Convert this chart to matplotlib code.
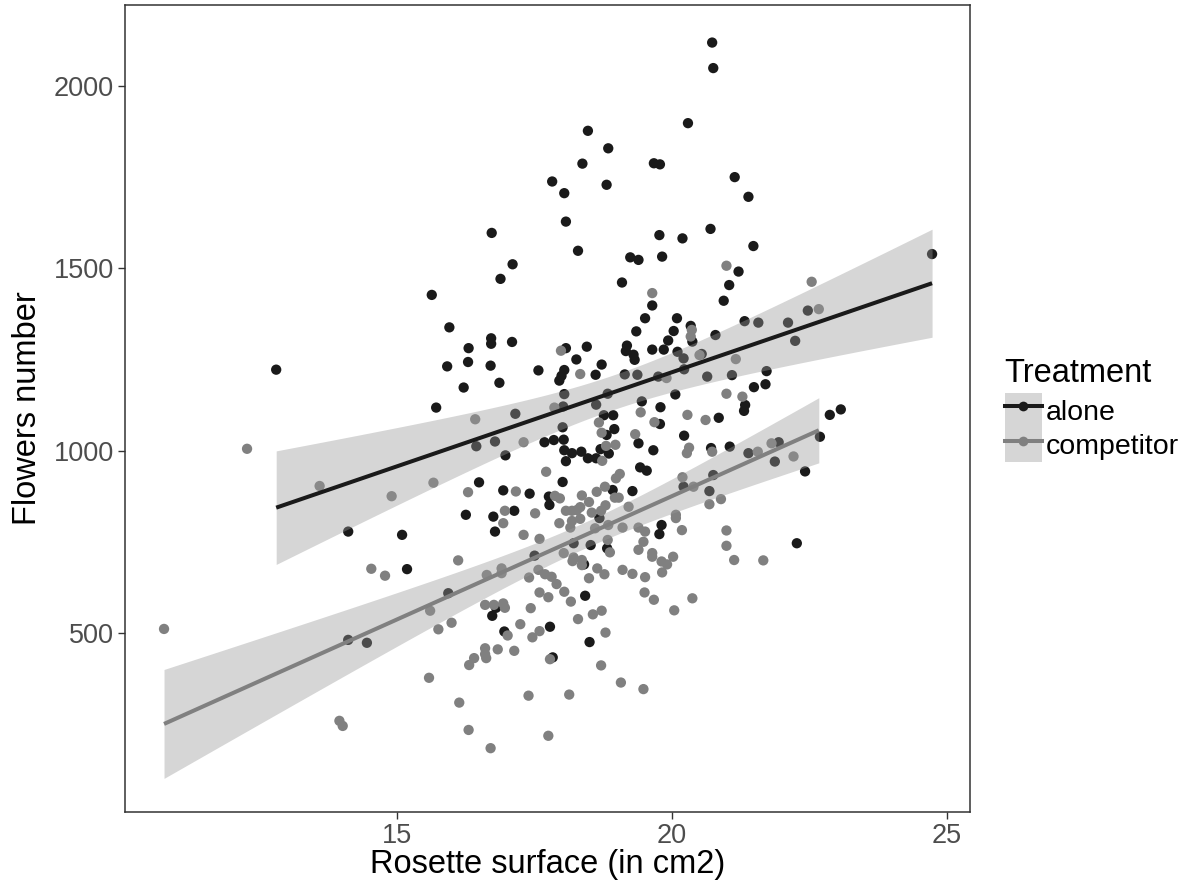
import numpy as np
import matplotlib
matplotlib.use("Agg")
import matplotlib.pyplot as plt
from matplotlib.patches import Patch
from matplotlib.lines import Line2D
from matplotlib.legend_handler import HandlerTuple

plt.rcParams['font.family'] = ['Liberation Sans', 'DejaVu Sans']

# ---- data (Rosette surface in cm2, Flowers number) ----
alone_x = [18.47, 18.84, 18.37, 17.82, 18.04, 18.81, 19.67, 19.78, 20.29, 18.07,
           16.72, 19.77, 20.19, 18.29, 19.24, 19.39, 19.82, 17.10, 20.73, 20.75,
           21.14, 21.39, 20.70, 21.48, 24.73, 21.21, 12.80, 15.63, 16.88, 19.09,
           15.95, 16.30, 16.71, 16.71, 17.09, 15.91, 16.29, 16.70, 16.21, 16.86,
           15.71, 17.57, 18.07, 18.45, 18.26, 18.72, 18.61, 18.04, 17.99, 17.95,
           19.64, 19.51, 19.35, 19.18, 19.16, 19.30, 19.32, 19.64, 19.85, 19.93,
           20.03, 20.09, 20.34, 20.37, 20.10, 18.76, 18.93, 18.95, 18.81, 19.39,
           19.79, 19.78, 20.22, 19.66, 17.68, 17.85, 18.03, 18.04, 18.18, 18.35,
           18.07, 18.47, 18.62, 18.70, 18.85, 16.97, 20.06, 19.42, 19.54, 16.49,
           18.01, 16.93, 17.41, 17.76, 17.77, 18.92, 19.28, 16.25, 17.13, 16.75,
           18.04, 18.02, 18.01, 18.83, 18.62, 19.45, 19.37, 19.14, 19.75, 20.21,
           20.22, 17.15, 16.44, 16.78, 20.21, 21.04, 20.94, 22.47, 21.32, 21.57,
           22.11, 20.79, 22.24, 20.54, 20.64, 21.09, 21.72, 21.49, 21.70, 21.33,
           21.31, 20.85, 22.87, 23.07, 22.69, 20.71, 21.05, 21.39, 21.94, 21.87,
           22.42, 20.75, 20.68, 14.11, 15.09, 15.18, 14.11, 14.45, 16.78, 18.68,
           19.81, 19.77, 18.21, 18.52, 18.82, 18.40, 17.50, 15.93, 18.42, 16.80,
           16.73, 17.78, 16.95, 18.50, 17.83, 22.27]
alone_y = [1877, 1829, 1787, 1738, 1706, 1729, 1788, 1785, 1898, 1628,
           1597, 1591, 1582, 1548, 1530, 1523, 1532, 1511, 2119, 2049,
           1750, 1696, 1608, 1561, 1539, 1491, 1222, 1427, 1471, 1461,
           1338, 1281, 1308, 1293, 1298, 1231, 1243, 1233, 1173, 1186,
           1118, 1220, 1281, 1285, 1250, 1236, 1208, 1221, 1205, 1192,
           1398, 1363, 1327, 1288, 1273, 1263, 1249, 1277, 1277, 1302,
           1328, 1363, 1342, 1299, 1271, 1097, 1097, 1059, 1043, 1020,
           1119, 1073, 1041, 1001, 1023, 1029, 1030, 1001, 993, 997,
           971, 979, 979, 1004, 992, 987, 1154, 954, 945, 913,
           914, 891, 882, 874, 851, 892, 889, 824, 835, 819,
           1155, 1121, 1064, 1156, 1126, 1135, 1208, 1209, 1203, 1253,
           1223, 1101, 1012, 1025, 901, 1454, 1411, 1384, 1355, 1351,
           1351, 1317, 1301, 1265, 1203, 1207, 1218, 1174, 1182, 1125,
           1109, 1090, 1098, 1113, 1038, 1007, 1011, 993, 1023, 970,
           943, 933, 889, 778, 769, 675, 481, 473, 778, 815,
           796, 771, 746, 741, 732, 688, 712, 609, 602, 569,
           547, 517, 504, 475, 433, 746]

comp_x = [20.99, 12.27, 13.59, 14.90, 19.64, 17.98, 18.33, 17.86, 16.42, 17.30,
          15.66, 16.29, 17.16, 17.71, 19.43, 18.67, 18.72, 18.97, 18.80, 19.33,
          18.73, 19.68, 19.90, 20.28, 20.31, 20.27, 20.36, 20.34, 20.50, 19.05,
          18.98, 18.78, 18.63, 18.96, 19.03, 18.36, 18.49, 17.96, 17.87, 18.79,
          18.71, 19.21, 18.33, 18.27, 18.18, 18.07, 18.54, 17.51, 16.96, 20.19,
          20.39, 20.07, 22.54, 22.67, 21.16, 20.99, 21.28, 20.61, 20.73, 21.56,
          21.81, 22.21, 20.89, 20.68, 14.53, 14.78, 10.76, 13.95, 14.01, 16.93,
          17.95, 18.15, 18.18, 18.33, 18.60, 18.84, 19.10, 19.39, 19.51, 20.07,
          20.18, 17.30, 17.59, 16.11, 18.87, 18.83, 19.48, 19.39, 19.64, 19.64,
          20.02, 19.81, 19.91, 19.82, 18.03, 18.21, 18.19, 18.36, 18.36, 18.64,
          18.77, 19.10, 19.28, 19.51, 18.49, 16.90, 16.90, 16.63, 17.40, 17.57,
          17.69, 17.81, 17.90, 18.04, 17.59, 17.75, 18.16, 19.50, 19.67, 20.37,
          20.04, 18.72, 18.56, 18.29, 15.60, 16.60, 16.76, 16.93, 16.96, 17.43,
          15.75, 15.99, 17.24, 17.59, 17.46, 17.01, 18.79, 16.60, 16.62, 16.60,
          16.40, 16.31, 16.83, 17.13, 17.78, 18.71, 15.58, 19.07, 19.48, 17.39,
          18.13, 16.13, 16.30, 17.75, 16.70, 20.99, 20.99, 21.13, 21.66]
comp_y = [1507, 1005, 903, 875, 1432, 1274, 1210, 1118, 1086, 1023,
          912, 886, 888, 942, 1105, 1077, 1049, 1016, 1013, 1045,
          972, 1078, 1199, 1098, 1008, 993, 1331, 1313, 1262, 936,
          924, 901, 887, 871, 871, 877, 859, 869, 876, 850,
          835, 846, 845, 837, 835, 835, 830, 828, 835, 927,
          901, 824, 1463, 1388, 1251, 1156, 1148, 1084, 997, 997,
          1020, 984, 867, 853, 676, 657, 511, 259, 245, 801,
          801, 789, 807, 813, 787, 796, 789, 789, 778, 815,
          782, 769, 758, 699, 721, 755, 750, 728, 719, 709,
          709, 696, 688, 666, 719, 707, 697, 700, 686, 677,
          661, 673, 662, 653, 650, 677, 664, 659, 652, 673,
          661, 654, 634, 613, 611, 598, 586, 611, 591, 595,
          562, 561, 551, 538, 561, 577, 577, 581, 569, 568,
          510, 528, 524, 505, 488, 493, 501, 458, 431, 442,
          431, 412, 455, 451, 428, 411, 377, 364, 346, 328,
          331, 309, 234, 218, 184, 781, 739, 700, 699]

groups = ['alone', 'competitor']
colors = {'alone': '#1a1a1a', 'competitor': '#808080'}
x_ticks = [15, 20, 25]
y_ticks = [500, 1000, 1500, 2000]

fig = plt.figure(figsize=(11.92, 8.94), dpi=100)
ax = fig.add_axes([125/1192, 1 - 812/894, 845/1192, 807/894])

data = {'alone': (np.array(alone_x), np.array(alone_y, dtype=float)),
        'competitor': (np.array(comp_x), np.array(comp_y, dtype=float))}

# points
for g in groups:
    x, y = data[g]
    ax.scatter(x, y, s=55, color=colors[g], edgecolors='none', zorder=2)

# linear fits with 95% CI ribbons (drawn over points, like ggplot)
t_crit = 1.975
for g in groups:
    x, y = data[g]
    n = len(x)
    b, a = np.polyfit(x, y, 1)
    resid = y - (a + b * x)
    s = np.sqrt(np.sum(resid ** 2) / (n - 2))
    xm = x.mean()
    sxx = np.sum((x - xm) ** 2)
    xs = np.linspace(x.min(), x.max(), 100)
    yhat = a + b * xs
    se = s * np.sqrt(1 / n + (xs - xm) ** 2 / sxx)
    ax.fill_between(xs, yhat - t_crit * se, yhat + t_crit * se,
                    color='#999999', alpha=0.4, linewidth=0, zorder=3)
    ax.plot(xs, yhat, color=colors[g], lw=2.9, zorder=4, solid_capstyle='butt')

ax.set_xlim(10.05, 25.42)
ax.set_ylim(9, 2222)
ax.set_xticks(x_ticks)
ax.set_yticks(y_ticks)
ax.tick_params(axis='both', direction='out', length=5, width=1, color='#333333',
               labelsize=19.5, labelcolor='#4d4d4d', pad=3)
for sp in ax.spines.values():
    sp.set_color('#333333')
    sp.set_linewidth(1.1)

ax.set_xlabel('Rosette surface (in cm2)', fontsize=23.5, color='black', labelpad=0)
ax.set_ylabel('Flowers number', fontsize=23.5, color='black', labelpad=8)

# legend
patch = Patch(facecolor='#999999', alpha=0.4, edgecolor='none')
handles = []
for g in groups:
    ln = Line2D([], [], color=colors[g], lw=2.9, marker='o', markersize=7,
                markeredgewidth=0)
    handles.append((patch, ln))
leg = ax.legend(handles=handles, labels=groups, title='Treatment',
                handler_map={tuple: HandlerTuple(ndivide=1, pad=0)},
                loc='center left', bbox_to_anchor=(1.041, 0.498),
                frameon=False, fontsize=20.5, title_fontsize=23.5,
                handlelength=1.3, handleheight=1.5, handletextpad=0.15,
                labelspacing=0.0, borderaxespad=0, borderpad=0)
leg._legend_box.align = 'left'
leg._legend_box.sep = 3

fig.savefig('out.png', dpi=100)
